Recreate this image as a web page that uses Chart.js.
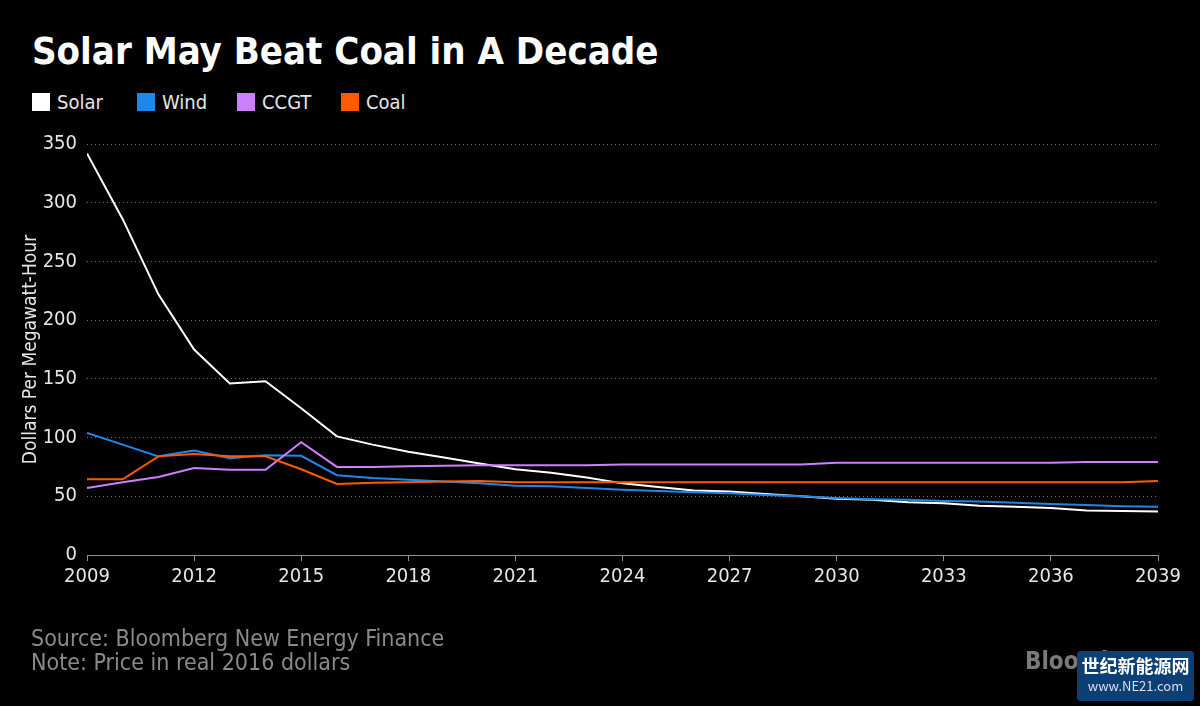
<!DOCTYPE html>
<html>
<head>
<meta charset="utf-8">
<script src="https://cdn.jsdelivr.net/npm/chart.js@4.4.0/dist/chart.umd.min.js"></script>
<style>
  html, body { margin:0; padding:0; background:#000; }
  body { width:1200px; height:706px; position:relative; overflow:hidden; font-family:"DejaVu Sans Condensed","DejaVu Sans",sans-serif; }
  #title { position:absolute; left:32px; top:28px; color:#fff; font-weight:bold; font-size:38px; line-height:46px; }
  #legend { position:absolute; left:32px; top:91px; height:22px; }
  .lg { position:absolute; top:0; color:#e6e6e6; font-size:20px; line-height:22px; white-space:nowrap; }
  .lg i { display:inline-block; width:18px; height:18px; vertical-align:-2px; margin-right:7px; }
  #foot { position:absolute; left:31px; top:626px; color:#8a8a8a; font-size:23px; line-height:24px; }
  #bb { position:absolute; left:1025px; top:647px; color:#7a7a7a; font-weight:bold; font-size:24px; }
  #wm { position:absolute; left:1077px; top:651px; width:117px; height:50px; background:#0c3f73; border-radius:4px; color:#fff; text-align:center; font-family:"Noto Sans CJK SC",sans-serif; }
  #wm b { display:block; font-size:18px; line-height:24px; margin-top:2px; }
  #wm span { display:block; font-size:13px; line-height:18px; color:#dde; }
  canvas { position:absolute; left:0; top:0; }
</style>
</head>
<body>
<div id="title">Solar May Beat Coal in A Decade</div>
<div id="legend"></div>
<canvas id="plot" width="1200" height="706"></canvas>
<div id="foot">Source: Bloomberg New Energy Finance<br>Note: Price in real 2016 dollars</div>
<div id="bb">Bloomberg</div>
<div id="wm"><b>世纪新能源网</b><span>www.NE21.com</span></div>
<script>
var years = [];
for (var yr = 2009; yr <= 2039; yr++) years.push(yr);

var solar = [342, 286, 222, 175, 146, 148, 125, 101, 94, 88, 83, 78, 73, 70, 66, 61, 58, 55, 54, 52, 50, 48, 47, 45, 44, 42, 41, 40, 38, 37.5, 37];
var wind  = [104, 94, 84, 89, 82.5, 85, 84.5, 68, 65.5, 64, 62.5, 61, 59, 58.5, 57, 55.5, 54.5, 53.5, 52.5, 51, 50, 48.5, 47.5, 47, 46, 45.5, 44.5, 43.5, 42.5, 41.5, 41];
var ccgt  = [57, 62, 66.5, 74, 72.5, 72.5, 96, 75, 75, 75.5, 76, 76.5, 76.5, 76.5, 76.5, 77, 77, 77, 77, 77, 77, 78.5, 78.5, 78.5, 78.5, 78.5, 78.5, 78.5, 79.3, 79.3, 79.3];
var coal  = [64.5, 64.5, 84, 86, 84, 84, 73, 60.5, 61.5, 62, 62.5, 63, 62, 62, 62, 62, 62, 62, 62, 62, 62, 62, 62, 62, 62, 62, 62, 62, 62, 62, 63];

var names = ['Solar', 'Wind', 'CCGT', 'Coal'];
var colors = ['#ffffff', '#1e88ea', '#cc80ff', '#ff5a00'];
var series = [solar, wind, ccgt, coal];
var yTicks = [0, 50, 100, 150, 200, 250, 300, 350];
var xTicks = [2009, 2012, 2015, 2018, 2021, 2024, 2027, 2030, 2033, 2036, 2039];

// legend
var legendX = [0, 105, 205, 309];
var lg = document.getElementById('legend');
names.forEach(function(n, i){
    var d = document.createElement('div');
    d.className = 'lg';
    d.style.left = legendX[i] + 'px';
    d.innerHTML = '<i style="background:' + colors[i] + '"></i>' + n;
    lg.appendChild(d);
});

var datasets = series.map(function(s, i){
    return {
        label: names[i],
        data: s.map(function(v, j){ return {x: years[j], y: v}; }),
        borderColor: colors[i],
        backgroundColor: colors[i],
        borderWidth: 2,
        pointRadius: 0,
        tension: 0,
        fill: false
    };
});
// draw Solar on top
datasets.reverse();

var ctx = document.getElementById('plot').getContext('2d');
var chart = new Chart(ctx, {
    type: 'line',
    data: { datasets: datasets },
    options: {
        responsive: false,
        animation: false,
        layout: { padding: { left: 0, right: 42, top: 144, bottom: 106 } },
        plugins: { legend: { display: false }, tooltip: { enabled: false } },
        scales: {
            x: {
                type: 'linear',
                min: 2009, max: 2039,
                afterBuildTicks: function(scale){ scale.ticks = xTicks.map(function(v){ return {value: v}; }); },
                afterFit: function(scale){ scale.height = 45; },
                grid: { drawOnChartArea: false, drawTicks: true, tickLength: 6, color: '#8e8e96', lineWidth: 1 },
                border: { display: true, color: '#8e8e96', width: 1 },
                ticks: { color: '#e6e6e6', font: { family: 'DejaVu Sans Condensed', size: 20 }, padding: 4, maxRotation: 0,
                         callback: function(v){ return String(v); } }
            },
            y: {
                min: 0, max: 350,
                afterBuildTicks: function(scale){ scale.ticks = yTicks.map(function(v){ return {value: v}; }); },
                afterFit: function(scale){ scale.width = 87; },
                grid: { color: function(c){ return c.tick.value === 0 ? 'rgba(0,0,0,0)' : '#737373'; }, drawTicks: false, lineWidth: 1 },
                border: { display: false, dash: [1, 3] },
                ticks: { color: '#e6e6e6', font: { family: 'DejaVu Sans Condensed', size: 20 }, padding: 10 },
                title: { display: true, text: 'Dollars Per Megawatt-Hour', color: '#e6e6e6',
                         font: { family: 'DejaVu Sans Condensed', size: 19 }, padding: { top: 20, bottom: 0 } }
            }
        }
    }
});
</script>
</body>
</html>
